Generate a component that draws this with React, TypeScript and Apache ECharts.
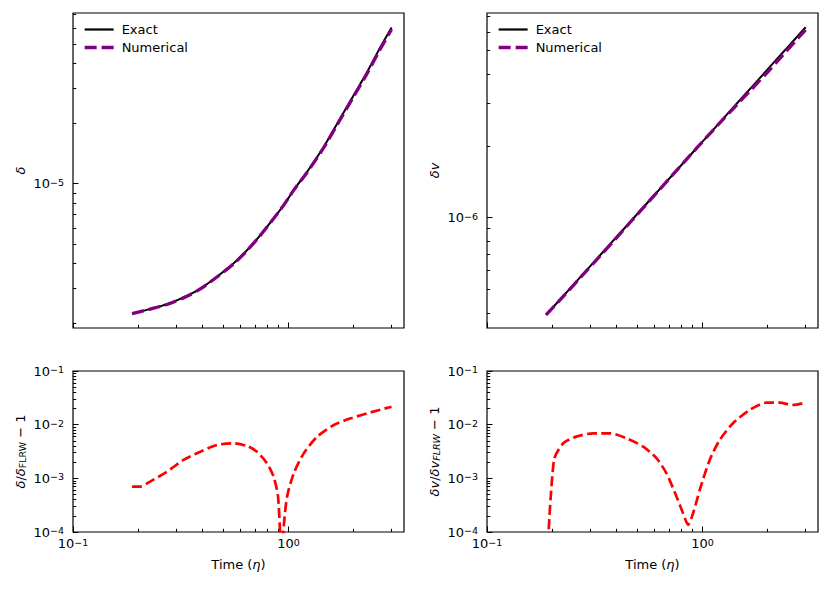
import React, { useEffect, useRef } from "react";
import * as echarts from "echarts";

const FONT = "DejaVu Sans";

// ---- data ----
const etaTop = [0.188, 0.22, 0.273, 0.338, 0.39, 0.466, 0.557, 0.643, 0.741, 0.854, 0.951, 1.059, 1.222, 1.459, 1.685, 2.012, 2.323, 2.679, 3.013];
const deltaExact = [2.24e-6, 2.34e-6, 2.5e-6, 2.75e-6, 2.99e-6, 3.43e-6, 4.0e-6, 4.66e-6, 5.54e-6, 6.71e-6, 7.82e-6, 9.3e-6, 1.148e-5, 1.53e-5, 2.0e-5, 2.78e-5, 3.63e-5, 4.84e-5, 6.05e-5];
const deltaNumerical = [2.24e-6, 2.34e-6, 2.49e-6, 2.74e-6, 2.98e-6, 3.42e-6, 3.98e-6, 4.64e-6, 5.52e-6, 6.7e-6, 7.82e-6, 9.29e-6, 1.142e-5, 1.515e-5, 1.975e-5, 2.74e-5, 3.57e-5, 4.75e-5, 5.92e-5];
const dvExact = [3.92e-7, 4.58e-7, 5.68e-7, 7.03e-7, 8.11e-7, 9.69e-7, 1.158e-6, 1.337e-6, 1.541e-6, 1.776e-6, 1.978e-6, 2.203e-6, 2.542e-6, 3.035e-6, 3.505e-6, 4.185e-6, 4.832e-6, 5.572e-6, 6.267e-6];
const dvNumerical = [3.92e-7, 4.56e-7, 5.65e-7, 6.98e-7, 8.05e-7, 9.64e-7, 1.154e-6, 1.334e-6, 1.54e-6, 1.776e-6, 1.977e-6, 2.199e-6, 2.528e-6, 2.997e-6, 3.437e-6, 4.078e-6, 4.709e-6, 5.444e-6, 6.106e-6];

const etaRatioDelta = [0.188, 0.205, 0.228, 0.273, 0.326, 0.39, 0.466, 0.557, 0.643, 0.715, 0.796, 0.854, 0.895, 0.932, 0.951, 0.986, 1.059, 1.178, 1.36, 1.624, 1.943, 2.323, 3.01];
const ratioDelta = [7.0e-4, 7.0e-4, 8.7e-4, 1.33e-3, 2.2e-3, 3.13e-3, 4.18e-3, 4.5e-3, 4.0e-3, 3.13e-3, 1.9e-3, 1.07e-3, 4.55e-4, 3e-5, 1.26e-4, 4.55e-4, 1.24e-3, 2.92e-3, 5.97e-3, 9.87e-3, 1.31e-2, 1.63e-2, 2.16e-2];

const etaRatioDv = [0.189, 0.2045, 0.226, 0.26, 0.311, 0.372, 0.444, 0.531, 0.612, 0.681, 0.758, 0.813, 0.858, 0.905, 0.972, 1.081, 1.203, 1.387, 1.657, 1.98, 2.28, 2.63, 3.01];
const ratioDv = [1.8e-5, 2.2e-3, 4.5e-3, 5.98e-3, 6.9e-3, 6.9e-3, 5.58e-3, 3.89e-3, 2.37e-3, 1.24e-3, 4.57e-4, 2.24e-4, 1.36e-4, 2.24e-4, 6.08e-4, 2.2e-3, 5.19e-3, 1.06e-2, 1.88e-2, 2.57e-2, 2.57e-2, 2.33e-2, 2.57e-2];

// ---- axis ranges and ticks ----
const xRange = [0.1, 3.44];
const xMajor = [0.1, 1];
const xMinor = [0.2, 0.3, 0.4, 0.5, 0.6, 0.7, 0.8, 0.9, 2, 3];
const yDeltaRange = [1.9e-6, 7.14e-5];
const yDeltaMajor = [1e-5];
const yDeltaMinor = [2e-6, 3e-6, 4e-6, 5e-6, 6e-6, 7e-6, 8e-6, 9e-6, 2e-5, 3e-5, 4e-5, 5e-5, 6e-5, 7e-5];
const yDvRange = [3.455e-7, 7.19e-6];
const yDvMajor = [1e-6];
const yDvMinor = [4e-7, 5e-7, 6e-7, 7e-7, 8e-7, 9e-7, 2e-6, 3e-6, 4e-6, 5e-6, 6e-6, 7e-6];
const yRatioRange = [1e-4, 1e-1];
const yRatioMajor = [1e-4, 1e-3, 1e-2, 1e-1];
const yRatioMinor = [2e-4, 3e-4, 4e-4, 5e-4, 6e-4, 7e-4, 8e-4, 9e-4, 2e-3, 3e-3, 4e-3, 5e-3, 6e-3, 7e-3, 8e-3, 9e-3, 2e-2, 3e-2, 4e-2, 5e-2, 6e-2, 7e-2, 8e-2, 9e-2];

const zip = (xs: number[], ys: number[]) => xs.map((x, i) => [x, ys[i]]);

const powLabel = (v: number) => {
  const e = Math.round(Math.log10(v));
  return `{b|10}{s|${e < 0 ? "\u2212" : ""}${Math.abs(e)}}`;
};

const labelRich = {
  b: { fontSize: 13, lineHeight: 13, fontFamily: FONT, color: "#000", verticalAlign: "bottom" },
  s: { fontSize: 9.5, lineHeight: 9.5, fontFamily: FONT, color: "#000", verticalAlign: "top", padding: [0, 0, 7, 0] },
};

const nameRich = {
  i: { fontSize: 13, lineHeight: 13, fontFamily: FONT, fontStyle: "italic", color: "#000", verticalAlign: "top" },
  r: { fontSize: 13, lineHeight: 13, fontFamily: FONT, color: "#000", verticalAlign: "top" },
  sub: { fontSize: 9.5, lineHeight: 9.5, fontFamily: FONT, color: "#000", verticalAlign: "bottom", padding: [5, 0, 0, 0] },
  subi: { fontSize: 9.5, lineHeight: 9.5, fontFamily: FONT, fontStyle: "italic", color: "#000", verticalAlign: "bottom", padding: [5, 0, 0, 0] },
};

const grids = [
  { left: 73, top: 13, width: 331, height: 315 },
  { left: 487, top: 13, width: 331, height: 315 },
  { left: 73, top: 371, width: 331, height: 161 },
  { left: 487, top: 371, width: 331, height: 161 },
];

function makeXAxes(g: number, showLabels: boolean) {
  return [
    {
      type: "log", gridIndex: g, position: "bottom", min: xRange[0], max: xRange[1],
      axisLine: { show: false }, splitLine: { show: false },
      axisTick: { show: true, inside: true, length: 5.5, customValues: xMajor, lineStyle: { color: "#000", width: 1 } },
      axisLabel: showLabels
        ? { show: true, customValues: xMajor, formatter: powLabel, rich: labelRich, margin: 5 }
        : { show: false },
      name: showLabels ? "Time ({i|\u03b7})" : "",
      nameLocation: "middle", nameGap: 26,
      nameTextStyle: { fontSize: 13, fontFamily: FONT, color: "#000", rich: nameRich },
    },
    {
      type: "log", gridIndex: g, position: "bottom", min: xRange[0], max: xRange[1],
      axisLine: { show: false }, splitLine: { show: false },
      axisTick: { show: true, inside: true, length: 3.2, customValues: xMinor, lineStyle: { color: "#000", width: 1 } },
      axisLabel: { show: false },
    },
  ];
}

function makeYAxes(g: number, range: number[], major: number[], minor: number[], name: string) {
  return [
    {
      type: "log", gridIndex: g, position: "left", min: range[0], max: range[1],
      axisLine: { show: false }, splitLine: { show: false },
      axisTick: { show: true, inside: true, length: 5.5, customValues: major, lineStyle: { color: "#000", width: 1 } },
      axisLabel: { show: true, customValues: major, formatter: powLabel, rich: labelRich, margin: 9 },
      name, nameLocation: "middle", nameGap: 46, nameRotate: 90,
      nameTextStyle: { fontSize: 13, fontFamily: FONT, color: "#000", rich: nameRich },
    },
    {
      type: "log", gridIndex: g, position: "left", min: range[0], max: range[1],
      axisLine: { show: false }, splitLine: { show: false },
      axisTick: { show: true, inside: true, length: 3.2, customValues: minor, lineStyle: { color: "#000", width: 1 } },
      axisLabel: { show: false },
    },
  ];
}

const legendCommon = {
  orient: "vertical", top: 23, itemWidth: 29, itemHeight: 14, itemGap: 5,
  selectedMode: false, padding: 0,
  data: [
    { name: "Exact", lineStyle: { color: "#000", width: 2.2, type: "solid" } },
    { name: "Numerical", lineStyle: { color: "#800080", width: 3.3, type: [12, 5] } },
  ],
  itemStyle: { opacity: 0 },
  textStyle: { fontSize: 13, fontFamily: FONT, color: "#000", padding: [0, 0, 0, 3] },
};

export default function App() {
  const ref = useRef<HTMLDivElement>(null);
  useEffect(() => {
    if (!ref.current) return;
    const chart = echarts.init(ref.current, undefined, { renderer: "svg" });
    const exactLine = (x: number, y: number, data: number[][]) => ({
      name: "Exact", type: "line", xAxisIndex: x, yAxisIndex: y, data, symbol: "none", showSymbol: false,
      smooth: 0.3, color: "#000", lineStyle: { color: "#000", width: 2 }, z: 2,
    });
    const numLine = (x: number, y: number, data: number[][]) => ({
      name: "Numerical", type: "line", xAxisIndex: x, yAxisIndex: y, data, symbol: "none", showSymbol: false,
      smooth: 0.3, color: "#800080", lineStyle: { color: "#800080", width: 3.3, type: [12, 5] }, z: 3,
    });
    const ratioLine = (x: number, y: number, data: number[][]) => ({
      name: "ratio", type: "line", xAxisIndex: x, yAxisIndex: y, data, symbol: "none", showSymbol: false,
      smooth: 0.25, color: "#ff0000", lineStyle: { color: "#ff0000", width: 2.7, type: [10, 4.3] }, clip: true,
    });
    chart.setOption({
      animation: false,
      backgroundColor: "#fff",
      textStyle: { fontFamily: FONT },
      grid: grids.map((g) => ({ ...g, show: true, borderColor: "#000", borderWidth: 1.2, backgroundColor: "transparent", containLabel: false })),
      legend: [
        { ...legendCommon, left: 83 },
        { ...legendCommon, left: 497 },
      ],
      xAxis: [
        ...makeXAxes(0, false),
        ...makeXAxes(1, false),
        ...makeXAxes(2, true),
        ...makeXAxes(3, true),
      ],
      yAxis: [
        ...makeYAxes(0, yDeltaRange, yDeltaMajor, yDeltaMinor, "{i|\u03b4}"),
        ...makeYAxes(1, yDvRange, yDvMajor, yDvMinor, "{i|\u03b4v}"),
        ...makeYAxes(2, yRatioRange, yRatioMajor, yRatioMinor, "{i|\u03b4}{r|/}{i|\u03b4}{sub|FLRW}{r| \u2212 1}"),
        ...makeYAxes(3, yRatioRange, yRatioMajor, yRatioMinor, "{i|\u03b4v}{r|/}{i|\u03b4v}{subi|FLRW}{r| \u2212 1}"),
      ],
      series: [
        exactLine(0, 0, zip(etaTop, deltaExact)),
        numLine(0, 0, zip(etaTop, deltaNumerical)),
        exactLine(2, 2, zip(etaTop, dvExact)),
        numLine(2, 2, zip(etaTop, dvNumerical)),
        ratioLine(4, 4, zip(etaRatioDelta, ratioDelta)),
        ratioLine(6, 6, zip(etaRatioDv, ratioDv)),
      ],
    });
    return () => chart.dispose();
  }, []);
  return <div ref={ref} style={{ position: "absolute", left: 0, top: 0, width: 831, height: 589 }} />;
}
